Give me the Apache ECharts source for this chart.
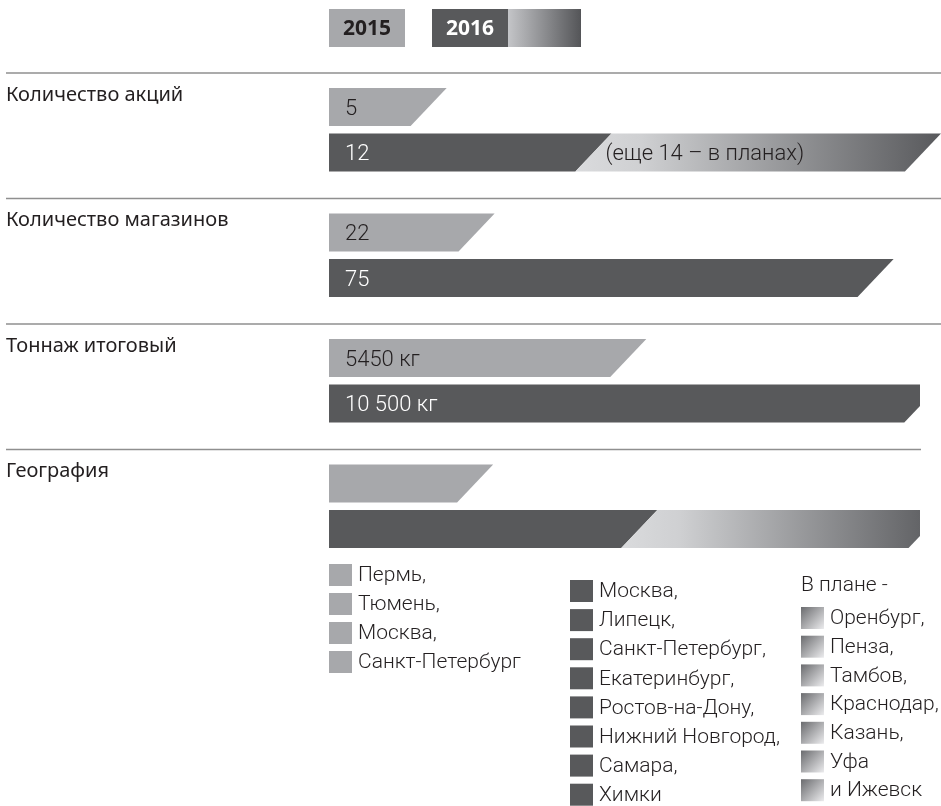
<!DOCTYPE html>
<html>
<head>
<meta charset="utf-8">
<script src="https://cdn.jsdelivr.net/npm/echarts@6/dist/echarts.min.js"></script>
<style>
html,body{margin:0;padding:0;background:#fff;}
#chart{width:941px;height:806px;}
</style>
</head>
<body>
<div id="chart"></div>
<script>
// ---------- DATA ----------
const sectionTitles = ['Количество акций', 'Количество магазинов', 'Тоннаж итоговый', 'География'];
const yearLabels = ['2015', '2016'];
const cities2015 = ['Пермь', 'Тюмень', 'Москва', 'Санкт-Петербург'];
const cities2016 = ['Москва', 'Липецк', 'Санкт-Петербург', 'Екатеринбург', 'Ростов-на-Дону', 'Нижний Новгород', 'Самара', 'Химки'];
const citiesPlanned = ['Оренбург', 'Пенза', 'Тамбов', 'Краснодар', 'Казань', 'Уфа', 'Ижевск'];
const values2015 = [5, 22, 5450, cities2015.length];
const values2016 = [12, 75, 10500, cities2016.length];
const planned2016 = [14, 0, 0, citiesPlanned.length];
const labels2015 = ['5', '22', '5450 кг', ''];
const labels2016 = ['12', '75', '10 500 кг', ''];
const plannedLabels = ['(еще 14 – в планах)', '', '', ''];
const axisMax = [26, 78.5, 10150, 14.4];
const plannedHeader = 'В плане -';

// ---------- STYLE ----------
const C_LIGHT = '#a7a8ab';
const C_DARK = '#58595b';
const C_TEXT = '#231f20';
const C_LINE = '#8f8f8f';
const FONT_BAR = 'Roboto';
const FONT_LABEL = 'Noto Sans';

const chart = echarts.init(document.getElementById('chart'), null, {renderer: 'canvas'});

const gridLeft = 329, gridTop0 = 84.25, sectionStep = 125.5, gridH = 91;
const grids = [], xAxes = [], yAxes = [], series = [];

function planGradient() {
  return new echarts.graphic.LinearGradient(0, 0, 1, 0, [
    {offset: 0, color: '#dadbdd'},
    {offset: 0.18, color: '#cfd0d2'},
    {offset: 1, color: '#58595c'}
  ]);
}

sectionTitles.forEach((t, i) => {
  grids.push({left: gridLeft, top: gridTop0 + sectionStep * i, height: gridH, width: i === 0 ? 612 : 591});
  xAxes.push({type: 'value', gridIndex: i, min: 0, max: axisMax[i], show: false});
  yAxes.push({type: 'category', gridIndex: i, data: yearLabels, inverse: true, show: false});
  const items = [
    {value: [0, 0, values2015[i], 0], text: labels2015[i]},
    {value: [1, 0, values2016[i], 1], text: labels2016[i]}
  ];
  if (planned2016[i] > 0) {
    items.push({value: [1, values2016[i], values2016[i] + planned2016[i], 2], text: plannedLabels[i]});
  }
  series.push({
    type: 'custom',
    xAxisIndex: i, yAxisIndex: i,
    clip: true,
    encode: {x: [1, 2], y: 0},
    data: items.map(d => d.value),
    renderItem: function (params, api) {
      const item = items[params.dataIndex];
      const cat = api.value(0), start = api.value(1), end = api.value(2), kind = api.value(3);
      const p0 = api.coord([start, cat]);
      const p1 = api.coord([end, cat]);
      const h = api.size([0, 1])[1] * 0.835;
      const top = p0[1] - h / 2, bot = p0[1] + h / 2;
      const s = h * 0.95;
      const pts = start === 0
        ? [[p0[0], top], [p1[0], top], [p1[0] - s, bot], [p0[0], bot]]
        : [[p0[0], top], [p1[0], top], [p1[0] - s, bot], [p0[0] - s, bot]];
      const fill = kind === 0 ? C_LIGHT : (kind === 1 ? C_DARK : planGradient());
      const children = [{type: 'polygon', shape: {points: pts}, style: {fill: fill}}];
      if (item.text) {
        children.push({
          type: 'text',
          x: kind === 2 ? p0[0] - 6 : p0[0] + 16,
          y: p0[1] + 2,
          style: {
            text: item.text,
            fill: kind === 1 ? '#ffffff' : C_TEXT,
            font: '300 22px ' + FONT_BAR,
            align: 'left',
            verticalAlign: 'middle'
          }
        });
      }
      return {type: 'group', children: children};
    }
  });
});

// ---------- GRAPHICS: header, separators, titles, city lists ----------
const graphics = [];
graphics.push({type: 'rect', shape: {x: 329, y: 9, width: 76, height: 38}, style: {fill: C_LIGHT}});
graphics.push({type: 'text', x: 367, y: 29, style: {text: yearLabels[0], fill: C_TEXT, font: 'bold 21px ' + FONT_LABEL, align: 'center', verticalAlign: 'middle'}});
graphics.push({type: 'rect', shape: {x: 432, y: 9, width: 76, height: 38}, style: {fill: C_DARK}});
graphics.push({type: 'rect', shape: {x: 508, y: 9, width: 73, height: 38}, style: {fill: new echarts.graphic.LinearGradient(0, 0, 1, 0, [{offset: 0, color: '#c4c5c8'}, {offset: 1, color: '#545558'}])}});
graphics.push({type: 'text', x: 470, y: 29, style: {text: yearLabels[1], fill: '#ffffff', font: 'bold 21px ' + FONT_LABEL, align: 'center', verticalAlign: 'middle'}});

sectionTitles.forEach((t, i) => {
  const ly = gridTop0 + sectionStep * i - 11.25;
  graphics.push({type: 'line', shape: {x1: 6, y1: ly, x2: i === 3 ? 921 : 941, y2: ly}, style: {stroke: C_LINE, lineWidth: 1.3}});
  graphics.push({type: 'text', x: 6, y: ly + 22, style: {text: t, fill: C_TEXT, font: '20px ' + FONT_LABEL, align: 'left', verticalAlign: 'middle'}});
});

function cityColumn(list, sqX, txtX, y0, step, fill, fmt) {
  list.forEach((c, i) => {
    const cy = y0 + step * i;
    graphics.push({type: 'rect', shape: {x: sqX, y: cy - 11, width: 23, height: 22}, style: {fill: typeof fill === 'function' ? fill() : fill}});
    graphics.push({type: 'text', x: txtX, y: cy + 1, style: {text: fmt(c, i, list.length), fill: C_TEXT, font: '300 21px ' + FONT_BAR, align: 'left', verticalAlign: 'middle'}});
  });
}
const commaExceptLast = (c, i, n) => i < n - 1 ? c + ',' : c;
cityColumn(cities2015, 329, 358, 575, 29, C_LIGHT, commaExceptLast);
cityColumn(cities2016, 570, 599, 591, 29.1, C_DARK, commaExceptLast);
graphics.push({type: 'text', x: 801, y: 586, style: {text: plannedHeader, fill: C_TEXT, font: '300 21px ' + FONT_BAR, align: 'left', verticalAlign: 'middle'}});
cityColumn(citiesPlanned, 801, 830, 618, 28.7,
  () => new echarts.graphic.LinearGradient(0, 0, 1, 1, [{offset: 0, color: '#6a6b6e'}, {offset: 1, color: '#ececee'}]),
  (c, i, n) => i === n - 1 ? 'и ' + c : (i < n - 2 ? c + ',' : c));

chart.setOption({
  animation: false,
  backgroundColor: '#ffffff',
  grid: grids,
  xAxis: xAxes,
  yAxis: yAxes,
  series: series,
  graphic: graphics
});
</script>
</body>
</html>
